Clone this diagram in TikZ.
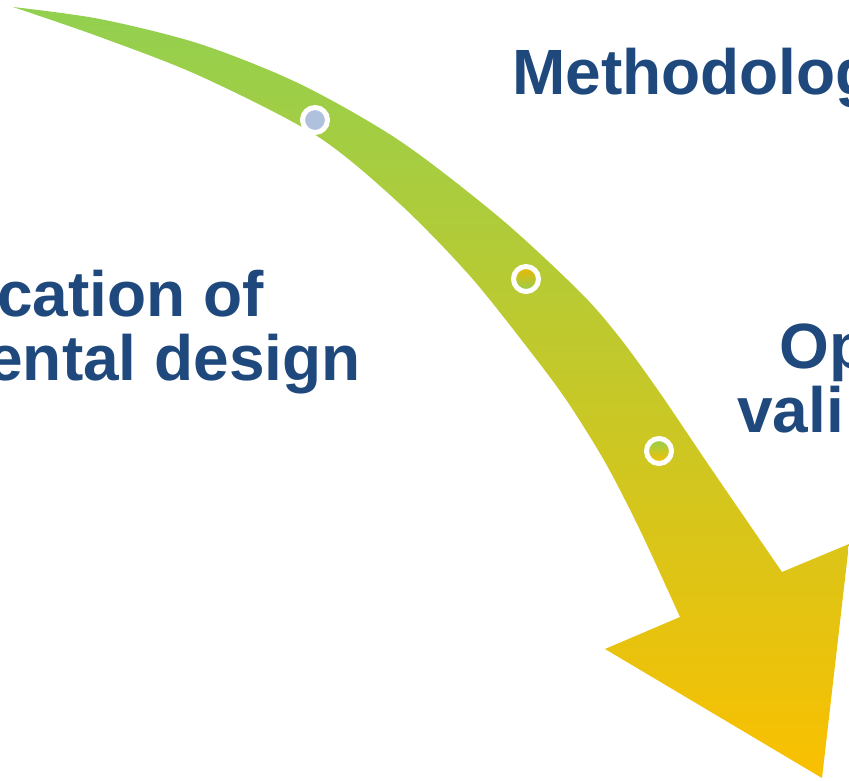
\documentclass[tikz,border=0pt]{standalone}
\usepackage{fontspec}
\setmainfont{Liberation Sans}
\usepackage{tikz}

\definecolor{stageblue}{RGB}{31,73,125}
\definecolor{arrowgreen}{RGB}{146,208,80}
\definecolor{arrowyellow}{RGB}{250,192,0}
\definecolor{dotblue}{RGB}{176,193,222}

\tikzset{
  stage/.style={text=stageblue, inner sep=0pt,
    font=\fontsize{64}{64}\selectfont\bfseries},
  stagedot/.style={circle, draw=white, line width=5pt,
    minimum size=25pt, inner sep=0pt}
}

\begin{document}
\begin{tikzpicture}[x=1pt,y=-1pt]
          \useasboundingbox (0,0) rectangle (849,780);
          \clip (0,0) rectangle (849,780);

          % curved arrow, green at the tail and yellow at the head
          \shade[top color=arrowgreen, bottom color=arrowyellow]
            plot[smooth] coordinates {(13,7) (100,19) (200,44) (300,84) (400,141)
              (500,218) (580,292) (620,338) (660,393) (710,467) (782,572)}
            -- (849,544) -- (822,778) -- (605,649) -- (680,617)
            -- plot[smooth] coordinates {(680,617) (640,530) (605,462) (567,401)
              (530,351) (470,276) (400,204) (317,136) (200,76) (100,37) (13,7)}
            -- cycle;

          % stages along the arrow
          \node[stagedot, fill=dotblue] (dot1) at (315,120) {};
          \node[stagedot, top color=arrowyellow!95!black, bottom color=arrowgreen] (dot2) at (526,279) {};
          \node[stagedot, top color=arrowgreen, bottom color=arrowyellow] (dot3) at (659,451) {};

          % labels
          \node[stage, anchor=base west] (method) at (512,94) {Methodolog};
          \node[stage, anchor=base east] (design1) at (264,316) {cation of};
          \node[stage, anchor=base east] (design2) at (361,380) {ental design};
          \node[stage, anchor=base west] (valid1) at (779,368) {Op};
          \node[stage, anchor=base west] (valid2) at (737,432) {vali};
        \end{tikzpicture}
\end{document}
